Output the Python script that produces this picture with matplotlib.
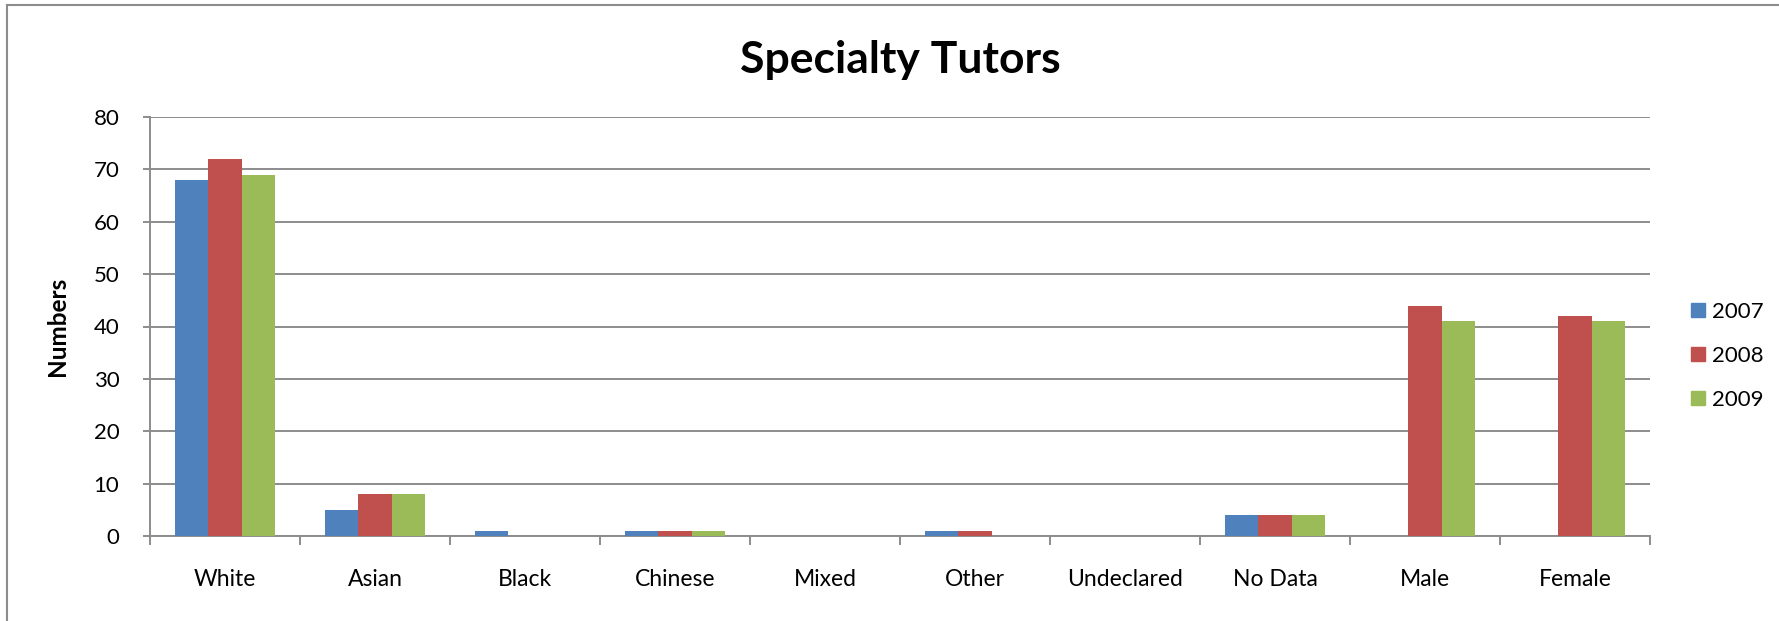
import numpy as np
import matplotlib.pyplot as plt
from matplotlib.lines import Line2D

categories = ["White", "Asian", "Black", "Chinese", "Mixed", "Other",
              "Undeclared", "No Data", "Male", "Female"]
years = ["2007", "2008", "2009"]
vals_2007 = [68, 5, 1, 1, 0, 1, 0, 4, 0, 0]
vals_2008 = [72, 8, 0, 1, 0, 1, 0, 4, 44, 42]
vals_2009 = [69, 8, 0, 1, 0, 0, 0, 4, 41, 41]
colors = ["#4F81BD", "#C0504D", "#9BBB59"]

W, H = 1779, 621

def main():
  plt.rcParams['font.family'] = ['Lato', 'DejaVu Sans']
  fig = plt.figure(figsize=(W/100, H/100), dpi=100)
  ax = fig.add_axes([150/W, 1-536/H, (1650-150)/W, (536-117)/H])

  ind = np.arange(len(categories)) + 0.5
  w = 1/4.5
  series = [vals_2007, vals_2008, vals_2009]
  for i, s in enumerate(series):
    ax.bar(ind + (i-1)*w, s, w, color=colors[i], zorder=3, linewidth=0)

  grey = "#8c8c8c"
  ax.set_xlim(0, len(categories))
  ax.set_ylim(0, 80)
  ax.set_yticks(np.arange(0, 81, 10))
  ax.yaxis.grid(True, color=grey, linewidth=1.4, zorder=0)
  ax.set_xticks(np.arange(0, len(categories)+1))
  ax.set_xticklabels([])
  ax.set_xticks(ind, minor=True)
  ax.set_xticklabels(categories, minor=True, fontsize=16.5)
  ax.tick_params(axis='x', which='minor', length=0, pad=24)
  ax.tick_params(axis='x', which='major', length=6.5, width=1.4, color=grey)
  ax.tick_params(axis='y', length=5, width=1.4, color=grey, labelsize=16, pad=17)
  for side in ['top', 'right']:
    ax.spines[side].set_visible(False)
  for side in ['left', 'bottom']:
    ax.spines[side].set_color(grey)
    ax.spines[side].set_linewidth(1.4)
  ax.set_ylabel("Numbers", fontsize=17.5, fontweight='bold')
  ax.yaxis.set_label_coords(69/W, 1-326.5/H, transform=fig.transFigure)
  ax.set_title("Specialty Tutors", fontsize=32, fontweight='bold', pad=32)

  handles = [Line2D([], [], marker='s', linestyle='', markersize=10.5,
                    markerfacecolor=c, markeredgecolor=c) for c in colors]
  fig.legend(handles, years, loc='center left', bbox_to_anchor=(1688/W, 1-356/H),
             frameon=False, fontsize=16, handletextpad=0.2, labelspacing=1.09,
             handlelength=0.9, borderpad=0, borderaxespad=0)

  fig.add_artist(Line2D([7/W, 7/W], [0, 1-5/H], color=grey, linewidth=1.5))
  fig.add_artist(Line2D([7/W, 1], [1-5/H, 1-5/H], color=grey, linewidth=1.5))
  fig.savefig('out.png')

if __name__=="__main__":
  main()
